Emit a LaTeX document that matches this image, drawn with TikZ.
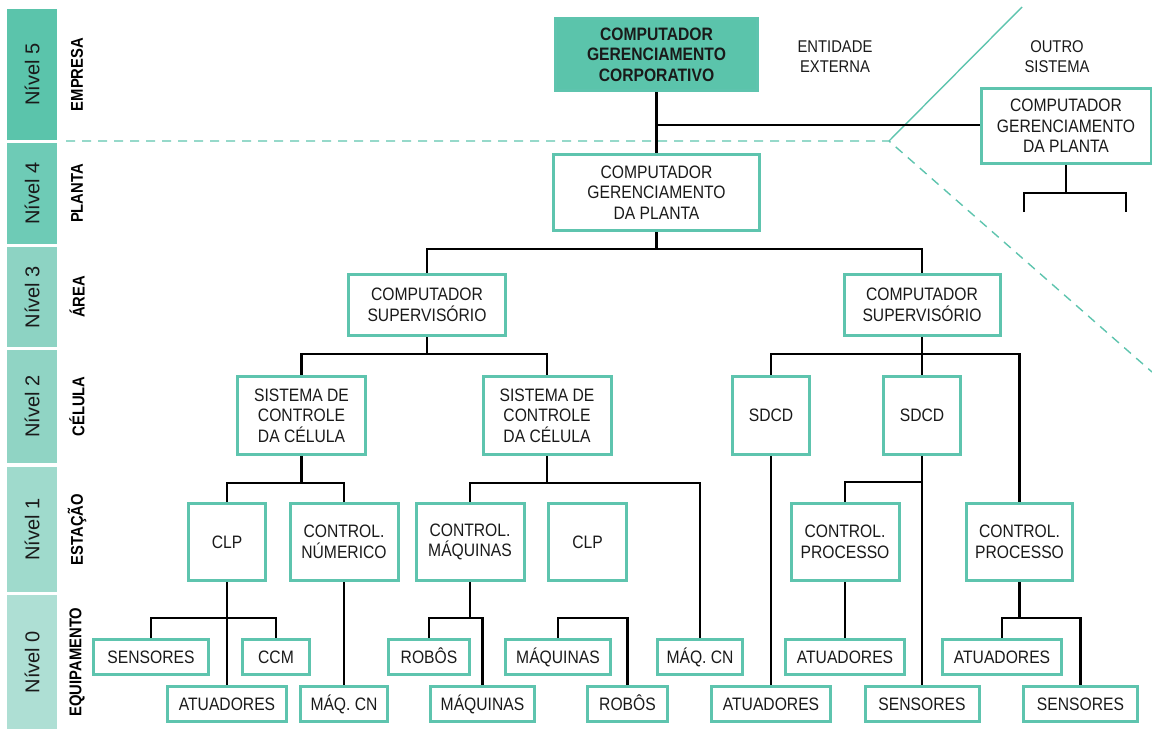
\documentclass[tikz,border=0pt]{standalone}
\usepackage{fontspec}
\setmainfont{Liberation Sans}[FakeStretch=0.87]
\newfontfamily\levelfont{Liberation Sans}
\usetikzlibrary{backgrounds}

\definecolor{tealline}{HTML}{5EC4AE}
\definecolor{tealfill}{HTML}{5BC4AB}
\definecolor{ink}{HTML}{1A1A1A}
\definecolor{lvfive}{HTML}{5BC4AB}
\definecolor{lvfour}{HTML}{6ECBB6}
\definecolor{lvthree}{HTML}{8DD3C3}
\definecolor{lvtwo}{HTML}{90D4C4}
\definecolor{lvone}{HTML}{9FDACC}
\definecolor{lvzero}{HTML}{AEDFD4}

\begin{document}
\begin{tikzpicture}[x=1pt, y=-1pt,
				box/.style={rectangle, draw=tealline, line width=3pt, fill=white, inner sep=0pt, align=center, text=ink, font=\fontsize{18}{20.5}\selectfont},
				eqbox/.style={box, minimum height=35pt, text height=13pt, text depth=0pt},
				stbox/.style={box, minimum height=77pt},
				level/.style={rectangle, rotate=90, inner sep=0pt, minimum height=50pt, text=ink, font=\levelfont\fontsize{20}{22}\selectfont},
				cat/.style={rotate=90, inner sep=0pt, text=black, font=\fontsize{17}{19}\bfseries},
				note/.style={align=center, text=ink, font=\fontsize{17}{20}\selectfont},
				wire/.style={line width=2.8pt, black},
				edge/.style={line width=1.4pt, tealline}
			]
			\useasboundingbox (0,0) rectangle (1152,731);
			% levels on the left
			\node[level, fill=lvfive, minimum width=131pt] (lv5) at (32,74.5) {Nível 5};
			\node[level, fill=lvfour, minimum width=101pt] (lv4) at (32,193.5) {Nível 4};
			\node[level, fill=lvthree, minimum width=100pt] (lv3) at (32,297) {Nível 3};
			\node[level, fill=lvtwo, minimum width=113pt] (lv2) at (32,406.5) {Nível 2};
			\node[level, fill=lvone, minimum width=125pt] (lv1) at (32,529.5) {Nível 1};
			\node[level, fill=lvzero, minimum width=134pt] (lv0) at (32,662) {Nível 0};
			\node[cat] (empresa) at (77,74.5) {EMPRESA};
			\node[cat] (planta) at (77,193.5) {PLANTA};
			\node[cat] (area) at (77,297) {ÁREA};
			\node[cat] (celula) at (77,406.5) {CÉLULA};
			\node[cat] (estacao) at (77,529.5) {ESTAÇÃO};
			\node[cat] (equip) at (77,662) {EQUIPAMENTO};
			% company and plant
			\node[box, fill=tealfill, minimum width=202pt, minimum height=72pt, font=\fontsize{18}{20.5}\bfseries] (corp) at (656.5,54.5) {COMPUTADOR\\GERENCIAMENTO\\CORPORATIVO};
			\node[note] (ext) at (835,57) {ENTIDADE\\EXTERNA};
			\node[note] (outro) at (1057,57) {OUTRO\\SISTEMA};
			\node[box, minimum width=206pt, minimum height=76pt] (plant) at (656.5,192.5) {COMPUTADOR\\GERENCIAMENTO\\DA PLANTA};
			\node[box, minimum width=170pt, minimum height=75pt] (other) at (1066,126) {COMPUTADOR\\GERENCIAMENTO\\DA PLANTA};
			% area
			\node[box, minimum width=157pt, minimum height=61pt] (areaL) at (427,305) {COMPUTADOR\\SUPERVISÓRIO};
			\node[box, minimum width=156pt, minimum height=61pt] (areaR) at (922,305) {COMPUTADOR\\SUPERVISÓRIO};
			% cells
			\node[box, minimum width=128pt, minimum height=78pt] (cellA) at (301.5,415.5) {SISTEMA DE\\CONTROLE\\DA CÉLULA};
			\node[box, minimum width=128pt, minimum height=78pt] (cellB) at (547,415.5) {SISTEMA DE\\CONTROLE\\DA CÉLULA};
			\node[box, minimum width=77pt, minimum height=78pt] (sdcdA) at (771,415.5) {SDCD};
			\node[box, minimum width=77pt, minimum height=78pt] (sdcdB) at (922,415.5) {SDCD};
			% stations
			\node[stbox, minimum width=77pt] (clpA) at (227,542) {CLP};
			\node[stbox, minimum width=108pt] (cnum) at (344,542) {CONTROL.\\NÚMERICO};
			\node[stbox, minimum width=108pt] (cmaq) at (470,542) {CONTROL.\\MÁQUINAS};
			\node[stbox, minimum width=78pt] (clpB) at (587.5,542) {CLP};
			\node[stbox, minimum width=108pt] (procA) at (845,542) {CONTROL.\\PROCESSO};
			\node[stbox, minimum width=106pt] (procB) at (1019.5,542) {CONTROL.\\PROCESSO};
			% equipment, upper row
			\node[eqbox, minimum width=115pt] (sensA) at (151,657) {SENSORES};
			\node[eqbox, minimum width=67pt] (ccm) at (276,657) {CCM};
			\node[eqbox, minimum width=81pt] (robA) at (429,657) {ROBÔS};
			\node[eqbox, minimum width=105pt] (maqA) at (558,657) {MÁQUINAS};
			\node[eqbox, minimum width=85pt] (cnB) at (700,657) {MÁQ. CN};
			\node[eqbox, minimum width=119pt] (atuB) at (845,657) {ATUADORES};
			\node[eqbox, minimum width=119pt] (atuC) at (1002,657) {ATUADORES};
			% equipment, lower row
			\node[eqbox, minimum width=119pt] (atuA) at (227,703.5) {ATUADORES};
			\node[eqbox, minimum width=87pt] (cnA) at (344,703.5) {MÁQ. CN};
			\node[eqbox, minimum width=104pt] (maqB) at (482.5,703.5) {MÁQUINAS};
			\node[eqbox, minimum width=80pt] (robB) at (627.5,703.5) {ROBÔS};
			\node[eqbox, minimum width=119pt] (atuD) at (771,703.5) {ATUADORES};
			\node[eqbox, minimum width=114pt] (sensB) at (922,703.5) {SENSORES};
			\node[eqbox, minimum width=114pt] (sensC) at (1080.5,703.5) {SENSORES};
			% buses
			\coordinate (busCorp) at (corp.south |- 0,125);
			\coordinate (busPlant) at (plant.south |- 0,249);
			\coordinate (busOther) at (other.south |- 0,193);
			\coordinate (stubL) at (1024,212);
			\coordinate (stubR) at (1126,212);
			\coordinate (busAreaL) at (areaL.south |- 0,354);
			\coordinate (busAreaR) at (areaR.south |- 0,354);
			\coordinate (busCellA) at (cellA.south |- 0,483);
			\coordinate (busCellB) at (cellB.south |- 0,483);
			\coordinate (busSdcd) at (sdcdB.south |- 0,482);
			\coordinate (busClp) at (clpA.south |- 0,618);
			\coordinate (busMaq) at (cmaq.south |- 0,618);
			\coordinate (busFree) at (590,618);
			\coordinate (busProc) at (procB.south |- 0,618);
			% teal border of the other system
			\coordinate (apex) at (889,141);
			\coordinate (lineTop) at (1022,7);
			\coordinate (lineEnd) at (1152,372);
			\coordinate (dashStart) at (66,141);
			\begin{scope}[on background layer]
			\draw[edge] (apex) -- (lineTop);
			\draw[edge, dash pattern=on 9pt off 7pt] (dashStart) -- (apex) -- (lineEnd);
			\draw[wire] (corp.south) -- (plant.north);
			\draw[wire] (busCorp) -- (busCorp -| other.west);
			\draw[wire] (other.south) -- (busOther);
			\draw[wire] (stubL) |- (busOther) -| (stubR);
			\draw[wire] (plant.south) -- (busPlant);
			\draw[wire] (areaL.north) |- (busPlant) -| (areaR.north);
			\draw[wire] (areaL.south) -- (busAreaL);
			\draw[wire] (cellA.north) |- (busAreaL) -| (cellB.north);
			\draw[wire] (areaR.south) -- (sdcdB.north);
			\draw[wire] (sdcdA.north) |- (busAreaR) -| (procB.north);
			\draw[wire] (cellA.south) -- (busCellA);
			\draw[wire] (clpA.north) |- (busCellA) -| (cnum.north);
			\draw[wire] (cellB.south) -- (busCellB);
			\draw[wire] (cmaq.north) |- (busCellB) -| (cnB.north);
			\draw[wire] (sdcdA.south) -- (atuD.north);
			\draw[wire] (sdcdB.south) -- (sensB.north);
			\draw[wire] (procA.north) |- (busSdcd);
			\draw[wire] (clpA.south) -- (atuA.north);
			\draw[wire] (sensA.north) |- (busClp) -| (ccm.north);
			\draw[wire] (cnum.south) -- (cnA.north);
			\draw[wire] (cmaq.south) -- (busMaq);
			\draw[wire] (robA.north) |- (busMaq) -| (maqB.north);
			\draw[wire] (maqA.north) |- (busFree) -| (robB.north);
			\draw[wire] (procA.south) -- (atuB.north);
			\draw[wire] (procB.south) -- (busProc);
			\draw[wire] (atuC.north) |- (busProc) -| (sensC.north);
			\end{scope}
			\end{tikzpicture}
\end{document}
